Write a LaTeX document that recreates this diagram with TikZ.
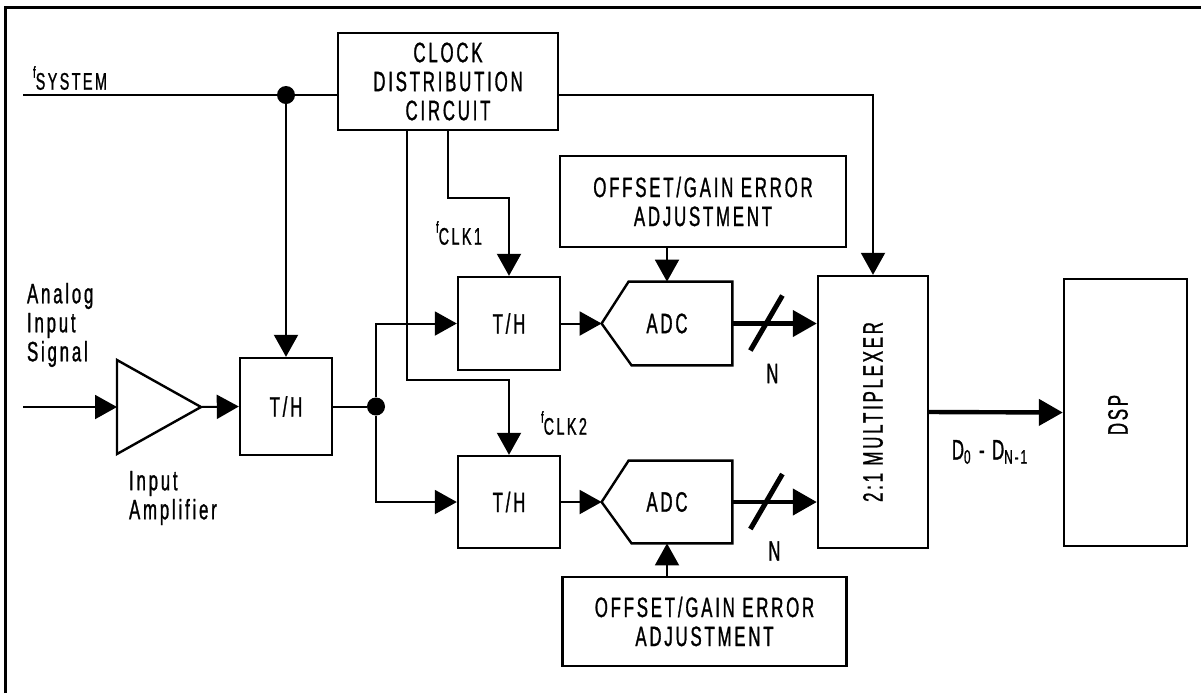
\documentclass[tikz,border=0pt]{standalone}
\usepackage{fontspec}
\setmainfont{Liberation Sans}[FakeStretch=0.6,LetterSpace=10,FakeBold=1]
\usepackage{tikz}
\usetikzlibrary{arrows.meta,positioning,calc}

\newcommand{\flabel}[1]{\raisebox{6pt}{\fontsize{8}{8}\selectfont f}{\fontsize{12}{12}\selectfont #1}}

\begin{document}
\begin{tikzpicture}[x=0.5pt,y=-0.5pt,font=\fontsize{14}{14.5}\selectfont,
  blk/.style={draw, line width=1.2pt, inner sep=0pt, align=center},
  arr/.style={line width=1pt, -{Triangle[length=11pt,width=12pt]}},
  bus/.style={line width=2.2pt, -{Triangle[length=12pt,width=13pt]}},
  dot/.style={circle, fill, inner sep=0pt, minimum size=9pt}]
\fill[white] (0,0) rectangle (1201,693);
\useasboundingbox (0,0) rectangle (1201,693);
\draw[line width=1.5pt] (5,693) -- (5,7) -- (1201,7);

\node[blk, minimum width=110pt, minimum height=48.5pt] (clock) at (448,81.5) {CLOCK\\DISTRIBUTION\\CIRCUIT};
\node[blk, minimum width=46pt, minimum height=48.5pt] (thin) at (286,406.5) {T/H};
\node[blk, minimum width=51pt, minimum height=46.5pt] (tha) at (509,323.5) {T/H};
\node[blk, minimum width=51pt, minimum height=46pt] (thb) at (509,502) {T/H};
\node[minimum width=65pt, minimum height=41.5pt, inner sep=0pt] (adca) at (667,323.5) {ADC};
\node[minimum width=65pt, minimum height=41pt, inner sep=0pt] (adcb) at (667,502) {ADC};
\node[blk, minimum width=143pt, minimum height=45.5pt] (offa) at (703,201.5) {OFFSET/GAIN ERROR\\ADJUSTMENT};
\node[blk, minimum width=142pt, minimum height=44.5pt] (offb) at (704.5,621.5) {OFFSET/GAIN ERROR\\ADJUSTMENT};
\node[blk, minimum width=55pt, minimum height=136pt] (mux) at (873,412) {};
\node[rotate=90] (muxtext) at (mux) {2:1 MULTIPLEXER};
\node[blk, minimum width=61.5pt, minimum height=133.5pt] (dsp) at (1125.5,412.5) {};
\node[rotate=90] (dsptext) at (1118,415) {DSP};
\node[dot] (sysdot) at (286,95) {};
\node[dot] (jdot) at (376,406.5) {};

% ADC outlines and input amplifier
\draw[line width=1.2pt] (adca.west) -- ($(adca.north west)+(27,0)$) -- (adca.north east) -- (adca.south east) -- ($(adca.south west)+(30,0)$) -- cycle;
\draw[line width=1.2pt] (adcb.west) -- ($(adcb.north west)+(27,0)$) -- (adcb.north east) -- (adcb.south east) -- ($(adcb.south west)+(30,0)$) -- cycle;
\coordinate (ampin) at (117,407);
\coordinate (ampout) at (201,407);
\draw[line width=1.2pt] ($(ampin)+(0,-47)$) -- (ampout) -- ($(ampin)+(0,47)$) -- cycle;

% clock lines
\coordinate (fsys) at (23,95);
\draw[line width=1pt] (fsys) -- (sysdot) -- (sysdot -| clock.west);
\draw[arr] (sysdot -| clock.east) -| (mux.north);
\draw[arr] (sysdot) -- (thin.north);
\draw[arr] (clock.south) |- ($(tha.north)+(0,-78)$) -- (tha.north);
\draw[arr] ($(clock.south)+(-41,0)$) |- ($(thb.north)+(0,-75)$) -- (thb.north);

% signal path
\coordinate (ain) at (23,407);
\draw[arr] (ain) -- (ampin);
\draw[arr] (ampout) -- (thin.west);
\draw[line width=1pt] (thin.east) -- (jdot);
\draw[arr] (jdot) |- (tha.west);
\draw[arr] (jdot) |- (thb.west);
\draw[arr] (tha.east) -- (adca.west);
\draw[arr] (thb.east) -- (adcb.west);
\draw[arr] (offa.south -| adca) -- (adca.north);
\draw[arr] (offb.north -| adcb) -- (adcb.south);
\draw[bus] (adca.east) -- (adca.east -| mux.west);
\draw[bus] (adcb.east) -- (adcb.east -| mux.west);
\draw[bus] (mux.east) -- (dsp.west);
\draw[line width=2.5pt] ($(adca.east)+(18,27)$) -- ++(32,-55);
\draw[line width=2.5pt] ($(adcb.east)+(18,27)$) -- ++(32,-55);

% labels
\node (na) at ($(adca.east)+(40,50)$) {N};
\node (nb) at ($(adcb.east)+(42,49)$) {N};
\node (fsyslbl) at (70,78) {\flabel{SYSTEM}};
\node (fclka) at (459,233) {\flabel{CLK1}};
\node (fclkb) at (564,423) {\flabel{CLK2}};
\node[align=left, anchor=west] (ainlbl) at (20,325) {Analog\\Input\\Signal};
\node[align=left, anchor=west] (amplbl) at (122,498) {Input\\Amplifier};
\node (dlbl) at (990,452) {D\textsubscript{0} - D\textsubscript{N-1}};
\end{tikzpicture}
\end{document}
